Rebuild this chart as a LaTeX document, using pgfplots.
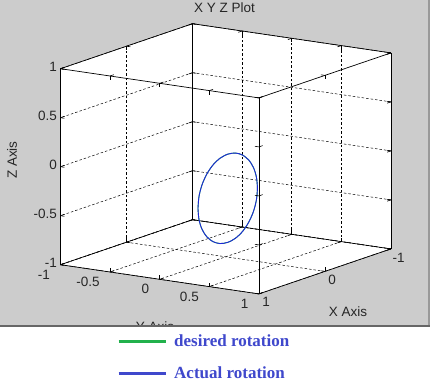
\documentclass[border=0pt]{standalone}
\usepackage{fontspec}
\setmainfont{Liberation Sans}
\newfontfamily\legendfont{Liberation Serif}
\usepackage{pgfplots}
\pgfplotsset{compat=1.18}
\definecolor{figgray}{RGB}{204,204,204}
\definecolor{lgblue}{RGB}{63,72,204}
\definecolor{lggreen}{RGB}{34,177,76}
\definecolor{curveblue}{RGB}{30,40,215}
\begin{document}
\begin{tikzpicture}
\useasboundingbox (0,0) rectangle (437pt,-385pt);
\fill[figgray] (0,0) rectangle (437pt,-385pt);
\fill[white] (60.5pt,-68.7pt) -- (192.5pt,-23.7pt) -- (390.9pt,-52.9pt) -- (390.9pt,-248.9pt) -- (258.9pt,-293.9pt) -- (60.5pt,-264.7pt) -- cycle;
\begin{axis}[
  x={(-66pt,-22.5pt)}, y={(99.2pt,-14.6pt)}, z={(0pt,98pt)},
  at={(225.7pt,-158.8pt)}, anchor=origin,
  xmin=-1,xmax=1,ymin=-1,ymax=1,zmin=-1,zmax=1,
  3d box=complete,
  grid=major,
  major grid style={black, line width=0.5pt, dash pattern=on 2.5pt off 2pt},
  axis line style={black, line width=0.7pt},
  xtick={-1,0,1}, ytick={-1,-0.5,0,0.5,1}, ztick={-1,-0.5,0,0.5,1},
  tick align=inside, major tick length=4pt, tick style={black, line width=0.6pt},
  /pgf/number format/assume math mode=true,
  ticklabel style={font=\fontsize{13.5}{15}\selectfont, text=black!85},
  yticklabel style={anchor=east, xshift=-7pt, yshift=-10pt},
  zticklabel style={yshift=3pt},
  label style={font=\fontsize{13.5}{15}\selectfont, text=black!85},
  xlabel={X Axis}, ylabel={Y Axis}, zlabel={Z Axis},
  xlabel style={at={(axis cs:0,1,-1)}, anchor=center, rotate=0, xshift=23pt, yshift=-40pt},
  ylabel style={at={(axis cs:1,0,-1)}, anchor=center, rotate=0, xshift=-4.7pt, yshift=-47.7pt},
  zlabel style={at={(axis cs:1,-1.489,-0.005)}, anchor=center},
  title={X Y Z Plot},
  title style={at={(axis cs:-1,-1,1)}, anchor=center, xshift=32pt, yshift=10pt, font=\fontsize{13.5}{15}\selectfont, text=black!85},
  clip=false,
]
\addplot3[lggreen, line width=0.9pt, smooth] coordinates {
(0.450,0.02,-0.400) (0.435,0.02,-0.283) (0.390,0.02,-0.175) (0.318,0.02,-0.082)
(0.225,0.02,-0.010) (0.117,0.02,0.035) (0.000,0.02,0.050) (-0.117,0.02,0.035)
(-0.225,0.02,-0.010) (-0.318,0.02,-0.082) (-0.390,0.02,-0.175) (-0.435,0.02,-0.283)
(-0.450,0.02,-0.400) (-0.435,0.02,-0.517) (-0.390,0.02,-0.625) (-0.318,0.02,-0.718)
(-0.225,0.02,-0.790) (-0.117,0.02,-0.835) (0.000,0.02,-0.850) (0.117,0.02,-0.835)
(0.225,0.02,-0.790) (0.318,0.02,-0.718) (0.390,0.02,-0.625) (0.435,0.02,-0.517)
(0.450,0.02,-0.400)};
\addplot3[curveblue, line width=0.9pt, smooth] coordinates {
(0.450,0.02,-0.400) (0.435,0.02,-0.283) (0.390,0.02,-0.175) (0.318,0.02,-0.082)
(0.225,0.02,-0.010) (0.117,0.02,0.035) (0.000,0.02,0.050) (-0.117,0.02,0.035)
(-0.225,0.02,-0.010) (-0.318,0.02,-0.082) (-0.390,0.02,-0.175) (-0.435,0.02,-0.283)
(-0.450,0.02,-0.400) (-0.435,0.02,-0.517) (-0.390,0.02,-0.625) (-0.318,0.02,-0.718)
(-0.225,0.02,-0.790) (-0.117,0.02,-0.835) (0.000,0.02,-0.850) (0.117,0.02,-0.835)
(0.225,0.02,-0.790) (0.318,0.02,-0.718) (0.390,0.02,-0.625) (0.435,0.02,-0.517)
(0.450,0.02,-0.400)};
\end{axis}
\fill[white] (0,-326pt) rectangle (437pt,-385pt);
\fill[white] (430pt,0) rectangle (437pt,-326pt);
\draw[black!40, line width=1.5pt] (429pt,0) -- (429pt,-326pt);
\draw[black!60, line width=1.2pt] (0,-326pt) -- (430pt,-326pt);
\begin{axis}[
  hide axis, scale only axis, width=220pt, height=52pt,
  xmin=0, xmax=1, ymin=0, ymax=1,
  at={(117pt,-385pt)}, anchor=origin,
  legend image code/.code={\draw[#1] (0pt,0pt) -- (47pt,0pt); \path (52pt,0pt);},
  legend cell align=left,
  legend style={at={(0,1)}, anchor=north west, draw=none, fill=none, inner sep=0pt,
    row sep=14pt, font=\legendfont\bfseries\fontsize{17}{19}\selectfont, text=lgblue},
]
\addlegendimage{lggreen, line width=3pt}
\addlegendentry{desired rotation}
\addlegendimage{lgblue, line width=3pt}
\addlegendentry{Actual rotation}
\end{axis}
\end{tikzpicture}
\end{document}
